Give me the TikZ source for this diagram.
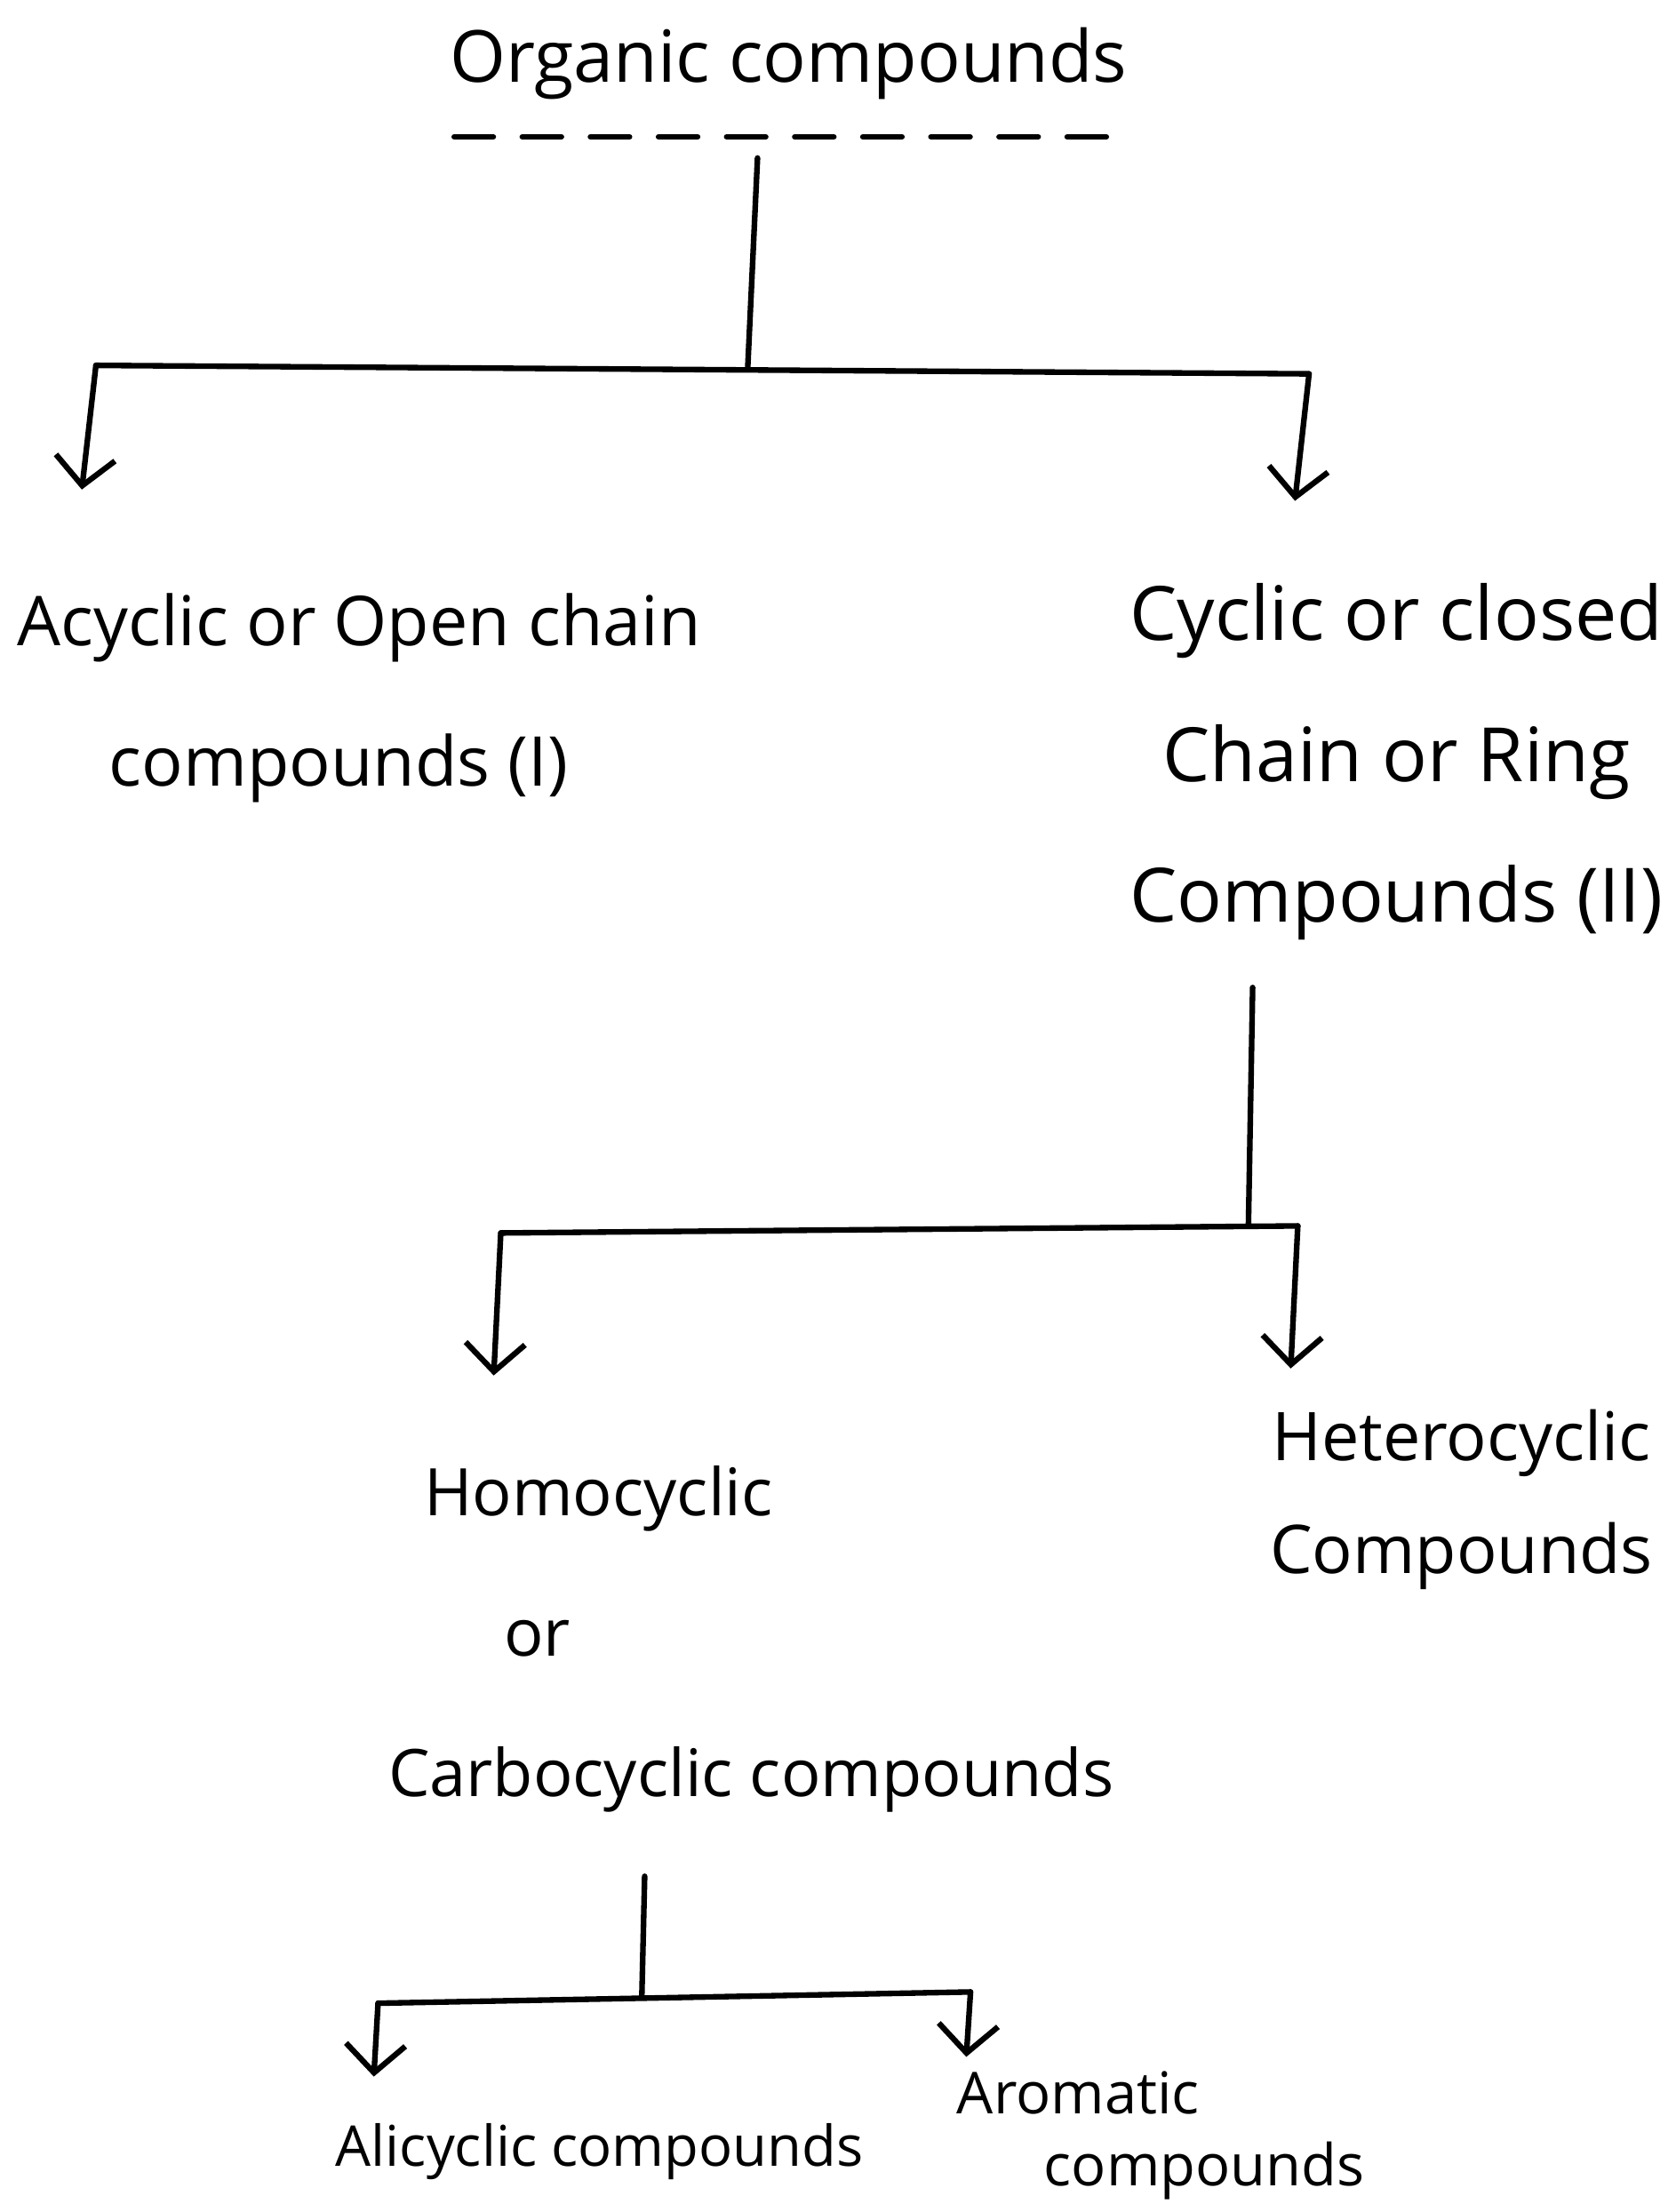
\documentclass[tikz,border=0pt]{standalone}
\usepackage{fontspec}
\setmainfont{Open Sans}
\usetikzlibrary{arrows.meta}
\tikzset{
	txt/.style={inner sep=0pt, font=\fontsize{23}{45}\selectfont, align=center},
	smalltxt/.style={inner sep=0pt, font=\fontsize{18}{23}\selectfont, align=left},
	line/.style={line width=1.8pt, line cap=round, line join=round},
	arr/.style={line, -{Straight Barb[length=9pt,width=19pt,line width=1.8pt]}},
}
\begin{document}
\begin{tikzpicture}[x=0.015875cm, y=-0.015875cm]
	\useasboundingbox (0,0) rectangle (1188,1568);
	\node[txt] (organic) at (559,45) {Organic compounds};
	\draw[line, dash pattern=on 12.5pt off 9.3pt] (322,97) -- (790,97);%Unterstrich
	\node[txt, font=\fontsize{22}{45}\selectfont, anchor=west, align=left] (acyclic) at (12,495) {Acyclic or Open chain\\\hspace*{1.03cm}compounds (I)};
	\node[txt, font=\fontsize{24}{45}\selectfont] (cyclic) at (990,540) {Cyclic or closed\\Chain or Ring\\Compounds (II)};
	\node[txt, font=\fontsize{21}{45}\selectfont, anchor=west, align=left] (homo) at (275,1162) {\hspace*{0.4cm}Homocyclic\\\hspace*{1.3cm}or\\Carbocyclic compounds};
	\node[txt, font=\fontsize{21.5}{36}\selectfont] (hetero) at (1036,1063) {Heterocyclic\\Compounds};
	\node[smalltxt, align=center] (ali) at (425,1525) {Alicyclic compounds};
	\node[smalltxt, font=\fontsize{18.5}{23}\selectfont, anchor=west] (aro) at (678,1514) {Aromatic\\\hspace*{0.98cm}compounds};
	% erste Ebene
	\coordinate (top) at (537,112);
	\coordinate (bar1l) at (68,259);
	\coordinate (bar1m) at (530,262);
	\coordinate (bar1r) at (928,265);
	\coordinate (tip1l) at (58,347);
	\coordinate (tip1r) at (918,355);
	\draw[line] (top) -- (bar1m);%Stamm
	\draw[line] (bar1l) -- (bar1r);%Querbalken
	\draw[arr] (bar1l) -- (tip1l);
	\draw[arr] (bar1r) -- (tip1r);
	% zweite Ebene
	\coordinate (stem2) at (888,700);
	\coordinate (bar2l) at (355,874);
	\coordinate (bar2m) at (885,869);
	\coordinate (bar2r) at (920,869);
	\coordinate (tip2l) at (350,975);
	\coordinate (tip2r) at (915,970);
	\draw[line] (stem2) -- (bar2m);
	\draw[line] (bar2l) -- (bar2r);
	\draw[arr] (bar2l) -- (tip2l);
	\draw[arr] (bar2r) -- (tip2r);
	% dritte Ebene
	\coordinate (stem3) at (457,1330);
	\coordinate (bar3l) at (268,1420);
	\coordinate (bar3m) at (455,1415);
	\coordinate (bar3r) at (688,1412);
	\coordinate (tip3l) at (265,1472);
	\coordinate (tip3r) at (685,1458);
	\draw[line] (stem3) -- (bar3m);
	\draw[line] (bar3l) -- (bar3r);
	\draw[arr] (bar3l) -- (tip3l);
	\draw[arr] (bar3r) -- (tip3r);
\end{tikzpicture}
\end{document}
